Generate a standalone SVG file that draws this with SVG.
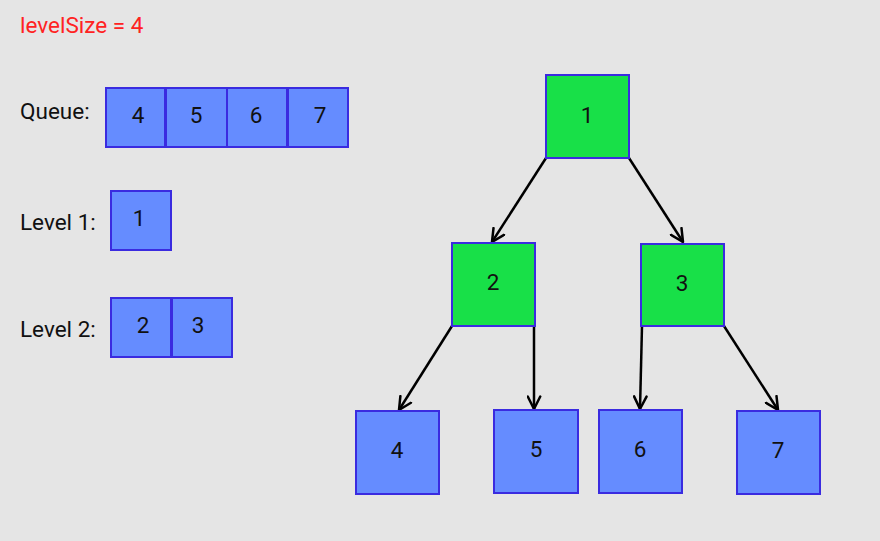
<svg xmlns="http://www.w3.org/2000/svg" width="880" height="541" viewBox="0 0 880 541">
<defs>
<style>
text{font-family:Roboto,"Liberation Sans",sans-serif;font-size:22.5px;fill:#111}
.lbl{text-anchor:start}
.num{text-anchor:middle}
.blue{fill:#658cff;stroke:#3a2be0;stroke-width:2}
.green{fill:#18e048;stroke:#3a2be0;stroke-width:2}
.edge{stroke:#000;stroke-width:2.5;fill:none;marker-end:url(#arr)}
</style>
<marker id="arr" viewBox="0 0 12 12" refX="11" refY="6" markerWidth="6" markerHeight="6" orient="auto" markerUnits="strokeWidth">
<path d="M1,1 L11,6 L1,11" fill="none" stroke="#000" stroke-width="2" stroke-linecap="round" stroke-linejoin="round"/>
</marker>
</defs>
<rect width="880" height="541" fill="#e5e5e5"/>
<text x="20" y="33" style="fill:#ff2222">levelSize = 4</text>
<g id="queue">
<text class="lbl" x="20" y="119">Queue:</text>
<rect class="blue" x="106" y="88" width="59" height="59"/>
<rect class="blue" x="166" y="88" width="61" height="59"/>
<rect class="blue" x="227" y="88" width="60" height="59"/>
<rect class="blue" x="288" y="88" width="60" height="59"/>
<text class="num" x="138" y="123">4</text>
<text class="num" x="196" y="123">5</text>
<text class="num" x="256" y="123">6</text>
<text class="num" x="320" y="123">7</text>
</g>
<g id="level1">
<text class="lbl" x="20" y="230">Level 1:</text>
<rect class="blue" x="111" y="191" width="60" height="59"/>
<text class="num" x="139" y="226">1</text>
</g>
<g id="level2">
<text class="lbl" x="20" y="337">Level 2:</text>
<rect class="blue" x="111" y="298" width="60" height="59"/>
<rect class="blue" x="172" y="298" width="60" height="59"/>
<text class="num" x="143" y="333">2</text>
<text class="num" x="198" y="333">3</text>
</g>
<g id="connectors">
<line class="edge" x1="546" y1="158" x2="492" y2="242"/>
<line class="edge" x1="629" y1="158" x2="683" y2="242"/>
<line class="edge" x1="452" y1="326" x2="399" y2="410"/>
<line class="edge" x1="534" y1="326" x2="534" y2="409"/>
<line class="edge" x1="642" y1="326" x2="640" y2="409"/>
<line class="edge" x1="724" y1="326" x2="778" y2="410"/>
</g>
<g id="n1"><rect class="green" x="546" y="75" width="83" height="83"/><text class="num" x="587" y="123">1</text></g>
<g id="n2"><rect class="green" x="452" y="243" width="83" height="83"/><text class="num" x="493" y="290">2</text></g>
<g id="n3"><rect class="green" x="641" y="244" width="83" height="82"/><text class="num" x="682" y="291">3</text></g>
<g id="n4"><rect class="blue" x="356" y="411" width="83" height="83"/><text class="num" x="397" y="458">4</text></g>
<g id="n5"><rect class="blue" x="494" y="410" width="84" height="83"/><text class="num" x="536" y="457">5</text></g>
<g id="n6"><rect class="blue" x="599" y="410" width="83" height="83"/><text class="num" x="640" y="457">6</text></g>
<g id="n7"><rect class="blue" x="737" y="411" width="83" height="83"/><text class="num" x="778" y="458">7</text></g>
</svg>
